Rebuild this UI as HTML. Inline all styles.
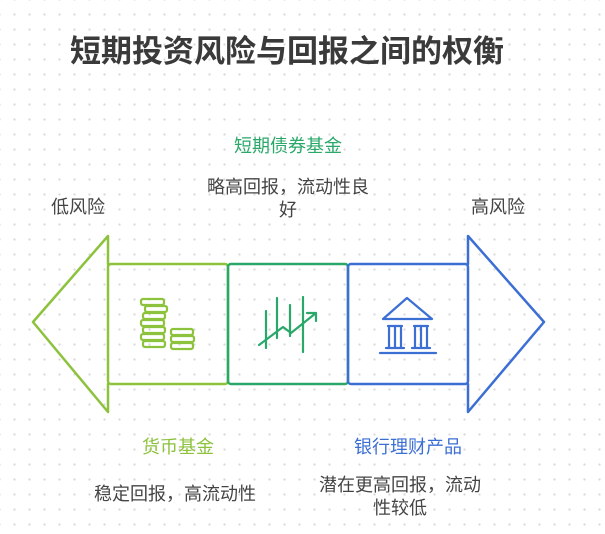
<!DOCTYPE html>
<html><head><meta charset="utf-8"><style>
body{margin:0;width:605px;height:534px;background:#fff;overflow:hidden;font-family:"Liberation Sans","Noto Sans CJK SC",sans-serif;}
.bg{position:absolute;left:0;top:0;width:605px;height:534px;background-image:radial-gradient(circle,#d8d8d8 1px,transparent 1.3px);background-size:15px 15px;background-position:7px 7px;}
.t{position:absolute;text-align:center;white-space:nowrap;}
</style></head><body>
<div class="bg"></div>
<div class="t" style="left:0;width:574px;top:26px;font-size:31px;font-weight:bold;color:#3a3a3a;">短期投资风险与回报之间的权衡</div>
<div class="t" style="left:188px;width:200px;top:132px;font-size:18px;color:#2aa86a;">短期债券基金</div>
<div class="t" style="left:188px;width:200px;top:176px;font-size:18px;color:#444;line-height:23px;">略高回报，流动性良<br>好</div>
<div class="t" style="left:28px;width:100px;top:193px;font-size:18px;color:#444;">低风险</div>
<div class="t" style="left:448px;width:100px;top:193px;font-size:18px;color:#444;">高风险</div>
<div class="t" style="left:98px;width:160px;top:433px;font-size:18px;color:#8cc23c;">货币基金</div>
<div class="t" style="left:60px;width:230px;top:480px;font-size:18px;color:#444;">稳定回报，高流动性</div>
<div class="t" style="left:318px;width:180px;top:433px;font-size:18px;color:#3b6fd4;">银行理财产品</div>
<div class="t" style="left:300px;width:200px;top:474px;font-size:18px;color:#444;line-height:23px;">潜在更高回报，流动<br>性较低</div>
<svg width="605" height="534" style="position:absolute;left:0;top:0" fill="none" stroke-width="2.5" stroke-linejoin="round" stroke-linecap="round">
<path d="M108,264 V236 L33,322 L108,412 V384" stroke="#8cc23c"/>
<rect x="108" y="264" width="120" height="120" rx="3" stroke="#8cc23c"/>
<rect x="228" y="264" width="120" height="120" rx="3" stroke="#2aa86a"/>
<rect x="348" y="264" width="120" height="120" rx="3" stroke="#3b6fd4"/>
<path d="M468,264 V236 L544,322 L468,412 V384" stroke="#3b6fd4"/>
<g stroke="#8cc23c" stroke-width="2.2">
<rect x="141" y="299" width="23" height="6" rx="2"/><rect x="145" y="306" width="22" height="6" rx="2"/><rect x="143" y="313" width="22" height="6" rx="2"/><rect x="141" y="320" width="23" height="6" rx="2"/><rect x="143" y="327" width="22" height="6" rx="2"/><rect x="141" y="334" width="23" height="6" rx="2"/><rect x="143" y="341" width="22" height="6" rx="2"/>
<rect x="171" y="329" width="22" height="6" rx="2"/><rect x="171" y="336" width="23" height="6" rx="2"/><rect x="171" y="343" width="22" height="6" rx="2"/>
</g>
<g stroke="#2aa86a" stroke-width="2.2">
<path d="M266,311 V348 M277,298 V338 M290,305 V336 M303,297 V352 M259,345 L283,327 L291,333 L316,313 M307,313 H316 V321"/>
</g>
<g stroke="#3b6fd4" stroke-width="2.2">
<path d="M383,319 L407,298 L432,319 Z M388,326 H402 M395,326 V347 M389,326 V347 M401,326 V347 M414,326 H428 M415,326 V347 M421,326 V347 M427,326 V347 M386,348 H404 M412,348 H430 M380,353 H436"/>
</g>
</svg>
</body></html>
